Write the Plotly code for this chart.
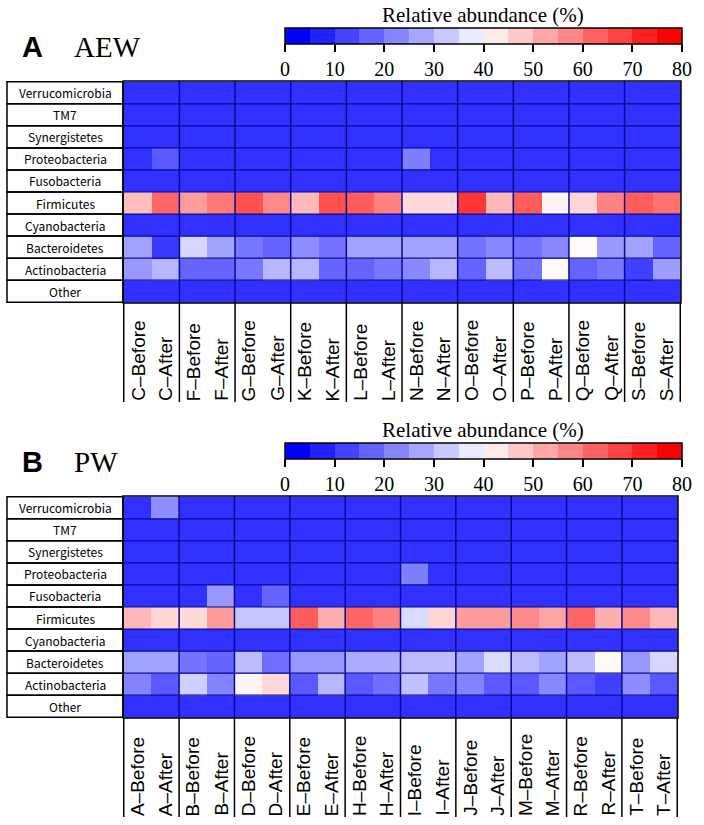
import plotly.graph_objects as go

W, H = 704, 825

phyla = ["Verrucomicrobia", "TM7", "Synergistetes", "Proteobacteria", "Fusobacteria",
         "Firmicutes", "Cyanobacteria", "Bacteroidetes", "Actinobacteria", "Other"]

# Panel A (AEW)
aew_samples = ["C", "F", "G", "K", "L", "N", "O", "P", "Q", "S"]
aew_cols = [f"{s}\u2013{t}" for s in aew_samples for t in ("Before", "After")]

aew_verruco = [0, 0, 0, 0, 0, 0, 0, 0, 0, 0, 0, 0, 0, 0, 0, 0, 0, 0, 0, 0]
aew_tm7 = [0, 0, 0, 0, 0, 0, 0, 0, 0, 0, 0, 0, 0, 0, 0, 0, 0, 0, 0, 0]
aew_synerg = [0, 0, 0, 0, 0, 0, 0, 0, 0, 0, 0, 0, 0, 0, 0, 0, 0, 0, 0, 0]
aew_proteo = [0, 8, 0, 0, 0, 0, 0, 0, 0, 0, 15, 0, 0, 0, 0, 0, 0, 0, 0, 0]
aew_fuso = [0, 0, 0, 0, 0, 0, 0, 0, 0, 0, 0, 0, 0, 0, 0, 0, 0, 0, 0, 0]
aew_firmi = [52, 68, 58, 65, 72, 62, 53, 72, 70, 63, 47, 47, 77, 53, 70, 42, 48, 63, 70, 66]
aew_cyano = [0, 0, 0, 0, 0, 0, 0, 0, 0, 0, 0, 0, 0, 0, 0, 0, 0, 0, 0, 0]
aew_bactero = [22, 2, 32, 22, 14, 10, 18, 13, 22, 22, 22, 22, 13, 17, 13, 17, 41, 20, 22, 10]
aew_actino = [20, 26, 10, 10, 14, 26, 26, 10, 10, 14, 17, 26, 10, 27, 13, 41, 10, 14, 3, 21]
aew_other = [0, 0, 0, 0, 0, 0, 0, 0, 0, 0, 0, 0, 0, 0, 0, 0, 0, 0, 0, 0]

# Panel B (PW)
pw_samples = ["A", "B", "D", "E", "H", "I", "J", "M", "R", "T"]
pw_cols = [f"{s}\u2013{t}" for s in pw_samples for t in ("Before", "After")]

pw_verruco = [0, 18, 0, 0, 0, 0, 0, 0, 0, 0, 0, 0, 0, 0, 0, 0, 0, 0, 0, 0]
pw_tm7 = [0, 0, 0, 0, 0, 0, 0, 0, 0, 0, 0, 0, 0, 0, 0, 0, 0, 0, 0, 0]
pw_synerg = [0, 0, 0, 0, 0, 0, 0, 0, 0, 0, 0, 0, 0, 0, 0, 0, 0, 0, 0, 0]
pw_proteo = [0, 0, 0, 0, 0, 0, 0, 0, 0, 0, 15, 0, 0, 0, 0, 0, 0, 0, 0, 0]
pw_fuso = [0, 0, 0, 20, 0, 10, 0, 0, 0, 0, 0, 0, 0, 0, 0, 0, 0, 0, 0, 0]
pw_firmi = [53, 48, 47, 58, 29, 29, 70, 55, 68, 63, 33, 48, 58, 58, 62, 57, 68, 55, 62, 53]
pw_cyano = [0, 0, 0, 0, 0, 0, 0, 0, 0, 0, 0, 0, 0, 0, 0, 0, 0, 0, 0, 0]
pw_bactero = [22, 22, 13, 10, 27, 12, 20, 20, 24, 24, 27, 27, 22, 33, 27, 22, 27, 41, 20, 32]
pw_actino = [16, 8, 31, 16, 42, 47, 8, 26, 8, 12, 28, 14, 16, 8, 8, 17, 8, 3, 18, 8]
pw_other = [0, 0, 0, 0, 0, 0, 0, 0, 0, 0, 0, 0, 0, 0, 0, 0, 0, 0, 0, 0]

aew_z = [aew_verruco, aew_tm7, aew_synerg, aew_proteo, aew_fuso,
         aew_firmi, aew_cyano, aew_bactero, aew_actino, aew_other]
pw_z = [pw_verruco, pw_tm7, pw_synerg, pw_proteo, pw_fuso,
        pw_firmi, pw_cyano, pw_bactero, pw_actino, pw_other]

cbar_ticks = [0, 10, 20, 30, 40, 50, 60, 70, 80]

# heatmap colours (cells look slightly washed out vs the bar)
cell_scale = [[0, "rgb(48,48,255)"], [0.5, "rgb(255,255,255)"], [1, "rgb(255,38,38)"]]

# stepped colour bar, 16 bins
bins = []
for i in range(8):
    f = i / 7.6
    bins.append(f"rgb({int(255*f)},{int(255*f)},255)")
for j in range(8):
    f = (7 - j) / 7.6
    bins.append(f"rgb(255,{int(255*f)},{int(255*f)})")
step_scale = []
for i, c in enumerate(bins):
    step_scale.append([i / 16, c])
    step_scale.append([(i + 1) / 16, c])

SERIF = "Liberation Serif, Times New Roman, serif"
SANS = "Liberation Sans, Arial, sans-serif"
JP = "Noto Sans CJK JP, Noto Sans, sans-serif"

fig = go.Figure()

panels = [
    # cols, z, axis suffix, left, right, top, bottom, bar top, letter, name, letter y
    (aew_cols, aew_z, "", 123, 681, 81, 303, 28, "A", "AEW", 47),
    (pw_cols, pw_z, "2", 123, 678, 496, 718, 443, "B", "PW", 462),
]

shapes = []
annotations = []
for cols, z, k, left, right, top, bot, cb_top, letter, name, ly in panels:
    xa, ya = "x" + k, "y" + k
    fig.add_trace(go.Heatmap(
        z=z, x=cols, y=phyla, xaxis=xa, yaxis=ya,
        colorscale=cell_scale, zmin=0, zmax=80, showscale=False,
        hoverongaps=False,
    ))
    # colour bar
    fig.add_trace(go.Scatter(
        x=[None], y=[None], mode="markers", xaxis=xa, yaxis=ya, showlegend=False,
        marker=dict(
            color=[0], colorscale=step_scale, cmin=0, cmax=80, showscale=True,
            colorbar=dict(
                orientation="h", x=285 / W, xanchor="left", y=1 - cb_top / H, yanchor="top",
                len=397, lenmode="pixels", thickness=16, thicknessmode="pixels",
                xpad=0, ypad=0, outlinewidth=1.5, outlinecolor="black",
                ticks="outside", ticklen=8, tickwidth=1.5, tickcolor="black",
                tickvals=cbar_ticks, tickfont=dict(family=SERIF, size=20, color="black"),
            ),
        ),
    ))
    annotations.append(dict(text="Relative abundance (%)", xref="paper", yref="paper",
                            x=483 / W, y=1 - (cb_top - 13) / H, xanchor="center",
                            yanchor="middle", showarrow=False,
                            font=dict(family=SERIF, size=21, color="black")))
    fig.update_layout(**{
        "xaxis" + k: dict(domain=[left / W, right / W], showticklabels=False, ticks="",
                          showgrid=False, zeroline=False, anchor=ya),
        "yaxis" + k: dict(domain=[1 - bot / H, 1 - top / H], showticklabels=False, ticks="",
                          showgrid=False, zeroline=False, autorange="reversed", anchor=xa),
    })

    # grid lines inside heatmap
    for r in range(len(phyla) - 1):
        shapes.append(dict(type="line", xref=xa + " domain", yref=ya, x0=0, x1=1,
                           y0=r + 0.5, y1=r + 0.5, line=dict(color="#0a0a90", width=1.2)))
    for c in range(1, len(cols) // 2):
        xv = 2 * c - 0.5
        shapes.append(dict(type="line", xref=xa, yref=ya + " domain", x0=xv, x1=xv,
                           y0=0, y1=1, line=dict(color="#0a0a90", width=1.5)))
    # separators under the heatmap
    for c in range(len(cols) // 2 + 1):
        xv = 2 * c - 0.5
        shapes.append(dict(type="line", xref=xa, yref="paper", x0=xv, x1=xv,
                           y0=1 - bot / H, y1=1 - (bot + 99) / H,
                           line=dict(color="black", width=1.5)))
    shapes.append(dict(type="rect", xref=xa + " domain", yref=ya + " domain",
                       x0=0, x1=1, y0=0, y1=1, line=dict(color="black", width=1.5)))
    # row label boxes
    for r, p in enumerate(phyla):
        shapes.append(dict(type="rect", xref="paper", yref=ya, x0=7 / W, x1=left / W,
                           y0=r - 0.5, y1=r + 0.5, line=dict(color="black", width=1.5)))
        annotations.append(dict(text=p, xref="paper", yref=ya, x=(7 + left) / 2 / W, y=p,
                                xanchor="center", yanchor="middle", showarrow=False,
                                font=dict(family=JP, size=12, color="black")))
    # column labels
    for cname in cols:
        annotations.append(dict(text=cname, xref=xa, yref="paper", x=cname,
                                y=1 - (bot + 100) / H, yanchor="bottom", xanchor="center",
                                textangle=-90, showarrow=False,
                                font=dict(family=SANS, size=19, color="black")))
    # panel letter + name
    annotations.append(dict(text="<b>" + letter + "</b>", xref="paper", yref="paper",
                            x=20 / W, y=1 - ly / H, xanchor="left", yanchor="middle",
                            showarrow=False, font=dict(family=SANS, size=29, color="black")))
    annotations.append(dict(text=name, xref="paper", yref="paper",
                            x=72 / W, y=1 - ly / H, xanchor="left", yanchor="middle",
                            showarrow=False, font=dict(family=SERIF, size=29, color="black")))

fig.update_layout(
    width=W, height=H, margin=dict(l=0, r=0, t=0, b=0),
    paper_bgcolor="white", plot_bgcolor="white",
    shapes=shapes, annotations=annotations, showlegend=False,
)

# drop the page's default body margin so the figure sits at the window's corner
fig.write_html("out.html", config={"displayModeBar": False},
               post_script="document.body.style.margin='0';")
